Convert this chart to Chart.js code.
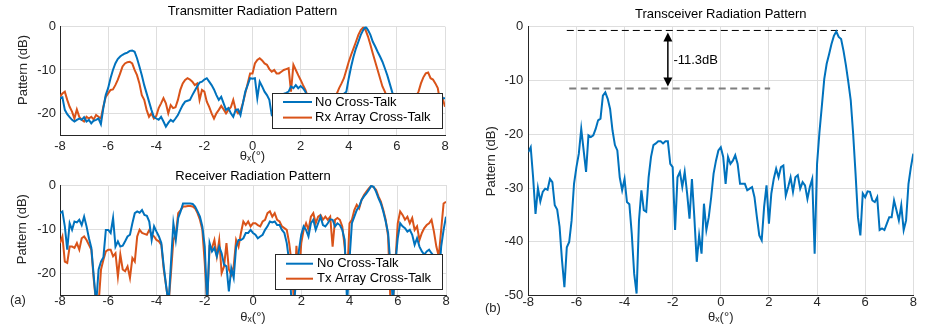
<!DOCTYPE html>
<html>
<head>
<meta charset="utf-8">
<script src="https://cdn.jsdelivr.net/npm/chart.js@4.4.0/dist/chart.umd.min.js"></script>
<style>
body{margin:0;background:#fff;}
#fig{position:relative;width:927px;height:331px;font-family:'Liberation Sans',Arial,sans-serif;}
canvas{position:absolute;}
.panel{position:absolute;font-size:13px;line-height:15px;color:#262626;}
</style>
</head>
<body>
<div id="fig">
  <canvas id="txChart" width="460" height="165" style="left:0;top:0"></canvas>
  <canvas id="rxChart" width="460" height="166" style="left:0;top:165px"></canvas>
  <canvas id="trxChart" width="467" height="331" style="left:460px;top:0"></canvas>
  <span class="panel" style="left:10px;top:292px">(a)</span>
  <span class="panel" style="left:485px;top:300px">(b)</span>
</div>
<script>
// steering angle grid (deg)
const thetaDeg = [
  -8,-7.9,-7.8,-7.7,-7.6,-7.5,-7.4,-7.3,-7.2,-7.1,
  -7,-6.9,-6.8,-6.7,-6.6,-6.5,-6.4,-6.3,-6.2,-6.1,
  -6,-5.9,-5.8,-5.7,-5.6,-5.5,-5.4,-5.3,-5.2,-5.1,
  -5,-4.9,-4.8,-4.7,-4.6,-4.5,-4.4,-4.3,-4.2,-4.1,
  -4,-3.9,-3.8,-3.7,-3.6,-3.5,-3.4,-3.3,-3.2,-3.1,
  -3,-2.9,-2.8,-2.7,-2.6,-2.5,-2.4,-2.3,-2.2,-2.1,
  -2,-1.9,-1.8,-1.7,-1.6,-1.5,-1.4,-1.3,-1.2,-1.1,
  -1,-0.9,-0.8,-0.7,-0.6,-0.5,-0.4,-0.3,-0.2,-0.1,
  0,0.1,0.2,0.3,0.4,0.5,0.6,0.7,0.8,0.9,
  1,1.1,1.2,1.3,1.4,1.5,1.6,1.7,1.8,1.9,
  2,2.1,2.2,2.3,2.4,2.5,2.6,2.7,2.8,2.9,
  3,3.1,3.2,3.3,3.4,3.5,3.6,3.7,3.8,3.9,
  4,4.1,4.2,4.3,4.4,4.5,4.6,4.7,4.8,4.9,
  5,5.1,5.2,5.3,5.4,5.5,5.6,5.7,5.8,5.9,
  6,6.1,6.2,6.3,6.4,6.5,6.6,6.7,6.8,6.9,
  7,7.1,7.2,7.3,7.4,7.5,7.6,7.7,7.8,7.9,
  8
];

// transmitter pattern (dB)
const txNoCrossTalk = [
  -16.5,-16.3,-19.2,-20.2,-20.9,-21.5,-21.9,-21.5,-21.2,-21.5,
  -20.9,-21.9,-21.5,-22.3,-21.7,-21.5,-21.2,-22.5,-18.8,-15.8,
  -14.2,-11.9,-10.0,-8.5,-7.5,-6.9,-6.5,-6.2,-6.0,-5.6,
  -5.5,-5.8,-7.3,-9.2,-11.2,-13.5,-15.4,-17.3,-19.2,-20.8,
  -21.2,-21.5,-20.8,-21.9,-23.1,-22.2,-21.5,-21.9,-21.2,-20.4,
  -19.2,-18.1,-17.3,-17.1,-16.9,-15.8,-14.8,-13.8,-12.9,-12.7,
  -12.2,-11.9,-12.7,-13.5,-14.5,-15.8,-16.9,-16.2,-17.7,-19.2,
  -18.8,-20.0,-20.8,-19.2,-19.1,-20.4,-17.7,-15.0,-13.5,-11.9,
  -12.0,-11.9,-16.5,-12.7,-13.8,-15.0,-15.8,-16.9,-20.4,-21.0,
  -19.0,-18.0,-17.0,-15.5,-15.3,-15.0,-13.8,-14.2,-13.5,-14.2,
  -13.7,-14.2,-15.0,-17.0,-19.0,-21.0,-22.0,-20.0,-21.0,-22.0,
  -23.0,-21.0,-20.0,-19.0,-18.0,-17.0,-16.5,-16.0,-15.5,-15.0,
  -11.9,-9.2,-6.9,-5.0,-3.5,-1.9,-0.8,0,-0.8,-1.9,
  -3.5,-4.6,-5.8,-6.9,-8.1,-9.6,-11.2,-13.1,-15.0,-17.0,
  -19.0,-21.0,-22.0,-20.0,-19.0,-18.0,-19.0,-20.0,-21.0,-19.0,
  -18.0,-17.5,-18.0,-19.0,-20.0,-21.0,-19.0,-18.0,-17.0,-16.5,
  -16.5
];
const txRxArrayCrossTalk = [
  -16.2,-15.4,-15.0,-16.9,-18.5,-19.6,-21.2,-19.1,-20.8,-21.5,
  -21.9,-20.8,-21.2,-20.8,-21.4,-20.4,-20.8,-21.2,-18.5,-16.2,
  -15.4,-14.6,-14.5,-13.5,-12.3,-10.8,-9.2,-8.5,-8.2,-8.1,
  -8.5,-10.0,-11.2,-13.1,-15.8,-16.9,-19.2,-20.8,-20.0,-21.2,
  -20.6,-18.8,-17.7,-16.5,-17.7,-20.0,-18.1,-18.8,-18.6,-16.9,
  -14.6,-13.1,-12.3,-11.9,-12.2,-12.7,-13.5,-13.1,-16.9,-14.6,
  -15.0,-17.3,-18.5,-20.0,-21.2,-20.0,-19.2,-18.3,-19.1,-20.0,
  -19.2,-18.6,-16.9,-19.2,-20.0,-19.4,-17.7,-15.4,-13.1,-10.8,
  -10.8,-8.5,-7.7,-7.3,-7.8,-8.5,-8.8,-9.8,-10.4,-10.0,
  -10.8,-10.8,-10.4,-10.0,-9.8,-9.6,-15.0,-8.8,-10.0,-11.2,
  -12.3,-13.5,-14.6,-16.2,-17.5,-19.0,-20.0,-21.0,-22.0,-21.0,
  -20.0,-19.0,-20.0,-19.0,-17.0,-15.5,-14.2,-13.1,-11.9,-10.0,
  -8.1,-6.5,-5.0,-3.5,-1.9,-0.8,-0.2,-0.8,-2.3,-4.2,
  -6.2,-8.1,-10.0,-11.9,-13.8,-15.0,-16.5,-18.0,-19.0,-20.0,
  -21.0,-22.0,-21.0,-20.0,-19.0,-18.5,-18.0,-17.0,-16.0,-15.0,
  -13.1,-11.7,-10.8,-10.6,-11.9,-12.2,-13.1,-14.2,-17.5,-16.5,
  -18.5
];

// receiver pattern (dB)
const rxNoCrossTalk = [
  -6.4,-6.0,-9.4,-14.7,-8.7,-10.2,-8.3,-8.5,-7.9,-9.1,
  -7.2,-9.4,-12.1,-14.3,-20.8,-27,-19.2,-17.4,-16.4,-10.2,
  -10.2,-10.9,-7.5,-14.0,-12.8,-14.0,-13.8,-12.8,-11.7,-11.3,
  -8.7,-6.4,-6.0,-6.3,-5.7,-6.8,-7.0,-8.3,-12.5,-9.4,
  -10.6,-11.7,-13.2,-18.5,-23.0,-27,-17.7,-8.7,-12.5,-7.5,
  -6.0,-4.2,-4.2,-4.2,-4.2,-4.3,-4.9,-6.0,-7.2,-9.4,
  -14.0,-27,-13.2,-15.1,-14.3,-16.2,-14.0,-15.5,-18.1,-18.5,
  -24.2,-18.9,-21.1,-14.0,-12.5,-12.5,-12.1,-10.9,-10.9,-10.2,
  -10.9,-11.3,-12.1,-11.7,-11.3,-10.2,-9.4,-8.3,-8.5,-8.3,
  -9.1,-9.1,-10.2,-10.9,-13.2,-17.4,-27,-27,-20.8,-15.0,
  -11.3,-9.4,-10.2,-11.7,-8.7,-7.9,-10.2,-8.7,-7.2,-9.1,
  -9.4,-8.7,-7.8,-7.9,-9.4,-8.7,-9.1,-10.2,-12.5,-27,
  -17.0,-8.7,-7.2,-5.7,-4.9,-3.4,-2.6,-1.9,-1.1,-0.2,
  -0.4,-1.5,-3.0,-4.2,-6.0,-8.3,-10.9,-18.5,-27,-17.7,
  -12.1,-8.7,-9.4,-9.8,-10.6,-10.2,-11.3,-13.6,-12.1,-14.0,
  -15.1,-15.8,-15.1,-14.7,-15.5,-16.2,-17.0,-21.5,-14.0,-10.2,
  -7.2
];
const rxTxArrayCrossTalk = [
  -13.2,-11.7,-17.4,-17.7,-14.0,-14.0,-14.3,-13.2,-14.7,-12.1,
  -11.7,-12.5,-13.6,-14.7,-21.5,-27,-27,-19.2,-17.0,-15.1,
  -14.7,-14.7,-16.2,-15.5,-20.8,-15.8,-19.2,-19.6,-18.5,-21.1,
  -16.6,-17.4,-11.7,-10.2,-10.9,-11.1,-11.3,-10.2,-11.3,-11.7,
  -12.5,-12.8,-13.6,-19.2,-23.0,-27,-20.0,-12.5,-11.3,-6.4,
  -5.7,-4.9,-4.9,-4.8,-4.8,-4.9,-5.3,-6.4,-7.9,-10.2,
  -17.7,-27,-14.0,-14.3,-12.5,-16.2,-12.5,-20.0,-18.5,-13.2,
  -19.2,-20.4,-18.5,-12.5,-14.0,-10.9,-8.3,-9.1,-8.3,-9.4,
  -8.7,-8.7,-9.1,-9.4,-8.3,-7.9,-6.4,-6.0,-7.2,-6.4,
  -7.9,-8.3,-9.4,-9.8,-10.2,-13.2,-17.7,-27,-13.8,-21.5,
  -13.2,-10.2,-8.7,-10.2,-7.2,-6.4,-8.7,-7.2,-6.8,-7.9,
  -7.2,-7.9,-7.2,-14.0,-7.9,-7.5,-7.9,-9.4,-14.0,-21.5,
  -8.7,-7.9,-5.7,-4.5,-5.3,-3.4,-2.3,-1.5,-0.8,-0.2,
  -0.5,-1.1,-2.6,-3.8,-5.7,-7.9,-11.7,-27,-27,-17.7,
  -8.7,-6.0,-6.8,-7.9,-7.2,-8.7,-7.5,-10.2,-9.4,-12.5,
  -10.9,-9.8,-9.1,-8.7,-7.9,-10.6,-14.0,-16.2,-10.2,-4.2,
  -3.8
];

// transceiver pattern (dB)
const trxPattern = [
  -23.3,-22.4,-28.0,-34.8,-30.0,-32.5,-30.7,-30.1,-30.3,-28.3,
  -28.9,-33.2,-34.0,-37.2,-43.4,-48.4,-41.0,-40.0,-36.0,-29.2,
  -26.1,-23.6,-19.0,-23.0,-27.0,-20.2,-20.5,-20.2,-19.0,-17.4,
  -17.1,-12.8,-12.2,-13.4,-15.3,-19.3,-22.0,-23.0,-28.0,-30.4,
  -28.3,-32.6,-33.0,-38.5,-45.9,-49.6,-36.0,-30.4,-34.1,-34.4,
  -28.0,-24.2,-22.0,-21.7,-21.3,-21.3,-21.7,-21.3,-21.3,-25.5,
  -26.1,-37.8,-28.0,-27.0,-29.8,-27.0,-31.0,-35.7,-28.3,-35.4,
  -43.7,-38.8,-42.2,-32.9,-37.8,-35.4,-31.7,-27.3,-24.9,-23.0,
  -22.4,-24.2,-29.2,-24.2,-25.5,-24.9,-23.9,-25.5,-29.2,-29.2,
  -29.2,-30.4,-30.1,-29.8,-31.7,-35.4,-38.8,-39.7,-33.5,-29.5,
  -36.6,-31.0,-28.3,-26.4,-28.0,-26.1,-25.8,-31.4,-29.8,-28.0,
  -30.7,-28.0,-27.6,-30.1,-28.9,-29.5,-32.0,-29.8,-28.3,-42.2,
  -25.5,-19.6,-14.7,-9.7,-6.9,-5.1,-3.2,-1.7,-0.9,-1.9,
  -2.3,-4.5,-7.2,-10.3,-13.7,-19.9,-27.3,-35.4,-38.8,-31.0,
  -31.7,-30.6,-30.7,-32.3,-32.6,-31.7,-37.8,-37.5,-37.8,-36.6,
  -35.4,-35.4,-32.3,-34.1,-36.0,-33.2,-37.8,-36.0,-29.2,-26.1,
  -23.6
];

const leftYTicks = [-20, -10, 0];
const rightYTicks = [-50, -40, -30, -20, -10, 0];

// main lobe / sidelobe markers on (b)
const peakLevel = -0.7;
const sidelobeLevel = -11.5;
const peakSpan = [-6.4, 5.2];
const sidelobeSpan = [-6.3, 2.05];
const arrowTheta = -2.2;
const gapLabel = '-11.3dB';
const gapLabelPos = [-1.97, -6.2];

const BLUE = '#0072BD', ORANGE = '#D95319', INK = '#262626', GRID = '#dedede';
const FONT = "'Liberation Sans', Arial, sans-serif";

Chart.defaults.font.family = FONT;
Chart.defaults.font.size = 13;
Chart.defaults.color = INK;

function toPoints(values){
  return values.map((v, i) => ({x: thetaDeg[i], y: v}));
}

function lineSet(label, values, color){
  return {label: label, data: toPoints(values), borderColor: color, backgroundColor: color,
          borderWidth: 2, pointRadius: 0, tension: 0, fill: false};
}

/* white boxed legend inside the axes, like matlab */
const boxLegend = {
  id: 'boxLegend',
  afterDraw(chart, args, o){
    const {ctx, chartArea} = chart;
    const left = Math.round(chartArea.right - o.right - o.width);
    const top = Math.round(chartArea.bottom - o.bottom - o.height);
    ctx.save();
    ctx.fillStyle = '#fff';
    ctx.fillRect(left, top, o.width, o.height);
    ctx.strokeStyle = INK; ctx.lineWidth = 1;
    ctx.strokeRect(left + 0.5, top + 0.5, o.width, o.height);
    ctx.font = '13px ' + FONT;
    ctx.textBaseline = 'middle';
    chart.data.datasets.forEach((ds, i) => {
      const rowY = top + o.firstRow + i * o.rowGap;
      ctx.strokeStyle = ds.borderColor; ctx.lineWidth = 2;
      ctx.beginPath(); ctx.moveTo(left + o.lineStart, rowY); ctx.lineTo(left + o.lineEnd, rowY); ctx.stroke();
      ctx.fillStyle = '#000';
      ctx.fillText(ds.label, left + o.textStart, rowY);
    });
    ctx.restore();
  }
};

/* double arrow + text between main lobe and sidelobe */
const gapArrow = {
  id: 'gapArrow',
  afterDatasetsDraw(chart){
    const {ctx, scales: {x, y}} = chart;
    const px = x.getPixelForValue(arrowTheta);
    const yTop = y.getPixelForValue(peakLevel) + 2;
    const yBot = y.getPixelForValue(sidelobeLevel) - 2;
    ctx.save();
    ctx.strokeStyle = '#000'; ctx.fillStyle = '#000'; ctx.lineWidth = 1.5;
    ctx.beginPath(); ctx.moveTo(px, yTop + 6); ctx.lineTo(px, yBot - 6); ctx.stroke();
    ctx.beginPath(); ctx.moveTo(px, yTop); ctx.lineTo(px - 4.5, yTop + 9); ctx.lineTo(px + 4.5, yTop + 9); ctx.closePath(); ctx.fill();
    ctx.beginPath(); ctx.moveTo(px, yBot); ctx.lineTo(px - 4.5, yBot - 9); ctx.lineTo(px + 4.5, yBot - 9); ctx.closePath(); ctx.fill();
    ctx.font = '13px ' + FONT;
    ctx.textBaseline = 'middle';
    ctx.fillText(gapLabel, x.getPixelForValue(gapLabelPos[0]), y.getPixelForValue(gapLabelPos[1]));
    ctx.restore();
  }
};

function scalesFor(c){
  return {
    x: {
      type: 'linear', min: -8, max: 8,
      ticks: {stepSize: 2, padding: c.xTickPad, color: INK},
      grid: {color: GRID, drawTicks: false},
      border: {color: INK},
      title: {display: true, text: 'θₓ(°)', color: INK, padding: {top: 0, bottom: c.xTitlePad}},
      afterFit: s => { s.height = c.xHeight; }
    },
    y: {
      type: 'linear', min: c.yMin, max: 0,
      afterBuildTicks: s => { s.ticks = c.yTicks.map(v => ({value: v})); },
      ticks: {padding: c.yTickPad, color: INK},
      grid: {color: GRID, drawTicks: false},
      border: {color: INK},
      title: {display: true, text: c.yTitle, color: INK, padding: {top: c.yTitlePad, bottom: 0}},
      afterFit: s => { s.width = c.yWidth; }
    }
  };
}

function titleFor(text, top, bottom){
  return {display: true, text: text, fullSize: false, color: '#000',
          font: {size: 13, weight: 'normal'}, padding: {top: top, bottom: bottom}};
}

window.onload = function(){
  chartTransmitter(); chartReceiver(); chartTransceiver();
};

/* TRANSMITTER */
function chartTransmitter(){
  new Chart(document.getElementById('txChart'), {
    type: 'line',
    data: {datasets: [
      lineSet('No Cross-Talk', txNoCrossTalk, BLUE),
      lineSet('Rx Array Cross-Talk', txRxArrayCrossTalk, ORANGE)
    ]},
    options: {
      responsive: false, animation: false, devicePixelRatio: 1,
      layout: {padding: {left: 0, right: 15, top: 0, bottom: 0}},
      scales: scalesFor({xTickPad: 4, xTitlePad: 0.5, xHeight: 30, yMin: -25, yTicks: leftYTicks,
                         yTickPad: 4, yTitle: '      Pattern (dB)', yTitlePad: 16, yWidth: 60}),
      plugins: {
        legend: {display: false}, tooltip: {enabled: false},
        title: titleFor('Transmitter Radiation Pattern', 4, 7),
        boxLegend: {width: 170, height: 35, right: 3, bottom: 7, firstRow: 9, rowGap: 15.6,
                    lineStart: 11, lineEnd: 40, textStart: 43}
      }
    },
    plugins: [boxLegend]
  });
}

/* RECEIVER */
function chartReceiver(){
  new Chart(document.getElementById('rxChart'), {
    type: 'line',
    data: {datasets: [
      lineSet('No Cross-Talk', rxNoCrossTalk, BLUE),
      lineSet('Tx Array Cross-Talk', rxTxArrayCrossTalk, ORANGE)
    ]},
    options: {
      responsive: false, animation: false, devicePixelRatio: 1,
      layout: {padding: {left: 0, right: 14, top: 0, bottom: 0}},
      scales: scalesFor({xTickPad: -1, xTitlePad: 6, xHeight: 36, yMin: -25, yTicks: leftYTicks,
                         yTickPad: 4, yTitle: '      Pattern (dB)', yTitlePad: 15, yWidth: 60}),
      plugins: {
        legend: {display: false}, tooltip: {enabled: false},
        title: titleFor('Receiver Radiation Pattern', 3.2, 1.2),
        boxLegend: {width: 167, height: 35, right: 4, bottom: 6, firstRow: 9.7, rowGap: 15,
                    lineStart: 11, lineEnd: 38, textStart: 42}
      }
    },
    plugins: [boxLegend]
  });
}

/* TRANSCEIVER */
function chartTransceiver(){
  new Chart(document.getElementById('trxChart'), {
    type: 'line',
    data: {datasets: [
      lineSet('Transceiver', trxPattern, BLUE),
      {label: 'peak', data: peakSpan.map(t => ({x: t, y: peakLevel})), borderColor: '#000',
       borderWidth: 1, borderDash: [7, 4], pointRadius: 0},
      {label: 'sidelobe', data: sidelobeSpan.map(t => ({x: t, y: sidelobeLevel})), borderColor: '#7f7f7f',
       borderWidth: 2, borderDash: [7, 4.5], pointRadius: 0}
    ]},
    options: {
      responsive: false, animation: false, devicePixelRatio: 1,
      layout: {padding: {left: 0, right: 13.7, top: 0, bottom: 0}},
      scales: scalesFor({xTickPad: -1, xTitlePad: 6, xHeight: 35.3, yMin: -50, yTicks: rightYTicks,
                         yTickPad: 5, yTitle: 'Pattern (dB)', yTitlePad: 24, yWidth: 68.3}),
      plugins: {
        legend: {display: false}, tooltip: {enabled: false},
        title: titleFor('Transceiver Radiation Pattern', 6.2, 4.9)
      }
    },
    plugins: [gapArrow]
  });
}
</script>
</body>
</html>
